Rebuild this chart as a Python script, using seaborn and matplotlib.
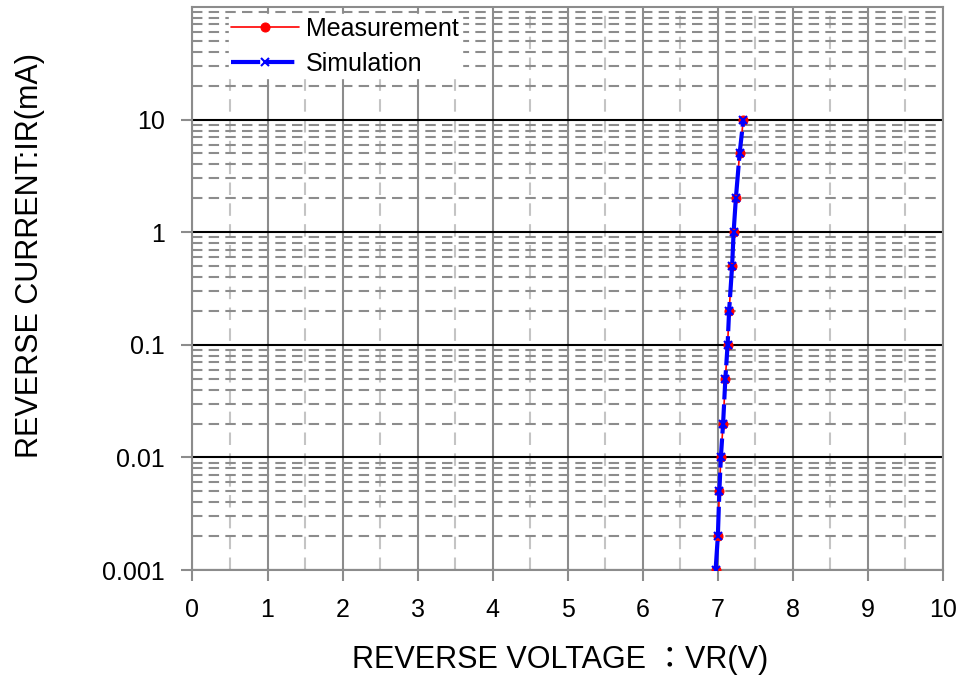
import matplotlib
matplotlib.use("Agg")
import matplotlib.pyplot as plt
import seaborn as sns
import pandas as pd
import numpy as np
from matplotlib.ticker import FixedLocator, NullFormatter

# ---- data ----
current_ma = [0.001, 0.002, 0.005, 0.01, 0.02, 0.05, 0.1, 0.2, 0.5, 1, 2, 5, 10]
meas_vr = [6.97, 7.00, 7.02, 7.04, 7.07, 7.10, 7.13, 7.15, 7.19, 7.21, 7.24, 7.29, 7.34]
sim_vr = [6.97, 7.00, 7.02, 7.04, 7.07, 7.10, 7.13, 7.15, 7.19, 7.21, 7.24, 7.29, 7.34]
x_ticks = [0, 1, 2, 3, 4, 5, 6, 7, 8, 9, 10]
y_ticks = [0.001, 0.01, 0.1, 1, 10]
y_tick_labels = ["0.001", "0.01", "0.1", "1", "10"]

sns.set_style("white")
plt.rcParams["font.family"] = ["Liberation Sans", "Noto Sans CJK JP", "DejaVu Sans"]
plt.rcParams["text.color"] = "black"
plt.rcParams["axes.labelcolor"] = "black"

fig = plt.figure(figsize=(9.62, 6.81), dpi=100)
ax = fig.add_axes([192.5 / 962, 1 - 570 / 681, (943 - 192.5) / 962, (570 - 7) / 681])
ax.set_yscale("log")

df_m = pd.DataFrame({"VR": meas_vr, "IR": current_ma})
df_s = pd.DataFrame({"VR": sim_vr, "IR": current_ma})

sns.lineplot(data=df_m, x="VR", y="IR", ax=ax, color="red", marker="o",
             markersize=6.5, markeredgecolor="red", linewidth=1.2,
             sort=False, label="Measurement", zorder=3)
sns.lineplot(data=df_s, x="VR", y="IR", ax=ax, color="blue", marker="x",
             markersize=5.5, markeredgewidth=1.5, markeredgecolor="blue",
             linewidth=3, sort=False, label="Simulation", zorder=4)
ax.lines[1].set_linestyle((0, (7, 1.2)))

ax.set_xlim(0, 10)
ax.set_ylim(0.001, 100)

ax.xaxis.set_major_locator(FixedLocator(x_ticks))
ax.xaxis.set_minor_locator(FixedLocator(np.arange(0.5, 10, 1.0)))
ax.set_xticklabels([str(t) for t in x_ticks])

ax.yaxis.set_major_locator(FixedLocator(y_ticks))
ax.set_yticklabels(y_tick_labels)
minor_y = [m * 10.0 ** e for e in range(-3, 2) for m in range(2, 10)]
ax.yaxis.set_minor_locator(FixedLocator(minor_y))
ax.yaxis.set_minor_formatter(NullFormatter())

ax.tick_params(axis="both", which="major", direction="out", length=8, width=1.5,
               color="#8c8c8c", labelsize=18, pad=12, labelcolor="black",
               bottom=True, left=True, top=False, right=False)
ax.tick_params(axis="both", which="minor", length=0)

ax.set_axisbelow(True)
ax.grid(True, which="major", axis="x", color="#8c8c8c", linestyle="-", linewidth=1.5)
ax.grid(True, which="minor", axis="x", color="#c4c4c4", linestyle=(0, (6, 4)), linewidth=1.5)
ax.grid(True, which="major", axis="y", color="black", linestyle="-", linewidth=1.5)
ax.grid(True, which="minor", axis="y", color="#8c8c8c", linestyle=(0, (5, 3)), linewidth=1.5)

for s in ax.spines.values():
    s.set_color("#8c8c8c")
    s.set_linewidth(1.5)
    s.set_visible(True)

ax.set_xlabel("REVERSE VOLTAGE ：VR(V)", fontsize=22, color="black")
ax.set_ylabel("REVERSE CURRENT:IR(mA)", fontsize=22, color="black")
ax.xaxis.set_label_coords((560 - 192.5) / 750.5, (570 - 660) / 563)
ax.xaxis.label.set_va("center")
ax.yaxis.set_label_coords((30 - 192.5) / 750.5, (570 - 255) / 563)
ax.yaxis.label.set_va("center")

leg = ax.legend(loc="upper left", bbox_to_anchor=(0.0317, 1.009), fontsize=18,
                frameon=True, facecolor="white", edgecolor="white", framealpha=1,
                fancybox=False, handlelength=2.7, handletextpad=0.3,
                labelspacing=0.43, borderpad=0.1)
leg.set_zorder(2)

fig.savefig("out.png", dpi=100)
